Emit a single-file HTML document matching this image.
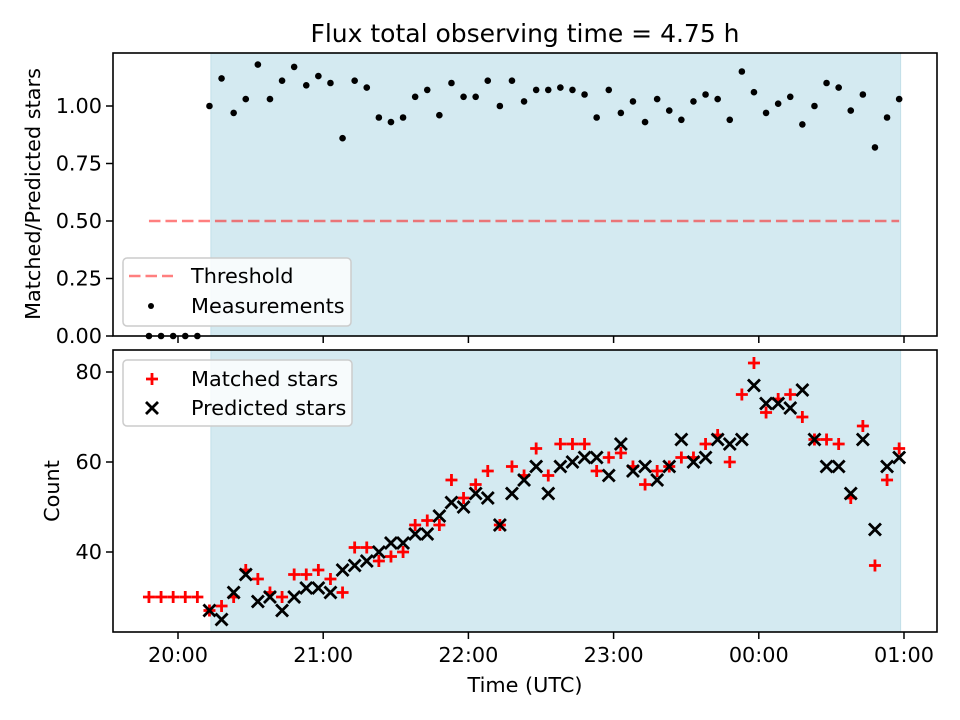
<!DOCTYPE html>
<html><head><meta charset="utf-8"><style>
html,body{margin:0;padding:0;background:#fff;}
svg{display:block;font-family:"DejaVu Sans","Liberation Sans",sans-serif;}
</style></head><body>
<svg id="fig" width="960" height="720" viewBox="0 0 960 720" xmlns="http://www.w3.org/2000/svg">
<rect x="0" y="0" width="960" height="720" fill="#fff"/>
<text x="525" y="42" font-size="25" text-anchor="middle" fill="#000">Flux total observing time = 4.75 h</text>
<g id="top"></g>
<g id="bot"></g>
<text x="525" y="692" font-size="20.8" text-anchor="middle">Time (UTC)</text>
<text transform="translate(40,194) rotate(-90)" font-size="20.8" text-anchor="middle">Matched/Predicted stars</text>
<text transform="translate(59,491) rotate(-90)" font-size="20.8" text-anchor="middle">Count</text>
</svg>
<script>
// minutes relative to 20:00
const times = [-12,-7,-2,3,8,13,18,23,28,33,38,43,48,53,58,63,68,73,78,83,88,93,98,103,108,113,118,123,128,133,138,143,148,153,158,163,168,173,178,183,188,193,198,203,208,213,218,223,228,233,238,243,248,253,258,263,268,273,278,283,288,293,298];
const ratio = [0,0,0,0,0,1.00,1.12,0.97,1.03,1.18,1.03,1.11,1.17,1.09,1.13,1.10,0.86,1.11,1.08,0.95,0.93,0.95,1.04,1.07,0.96,1.10,1.04,1.04,1.11,1.00,1.11,1.02,1.07,1.07,1.08,1.07,1.05,0.95,1.07,0.97,1.02,0.93,1.03,0.98,0.94,1.02,1.05,1.03,0.94,1.15,1.06,0.97,1.01,1.04,0.92,1.00,1.10,1.08,0.98,1.05,0.82,0.95,1.03];
const matched = [30,30,30,30,30,27,28,30,36,34,31,30,35,35,36,34,31,41,41,38,39,40,46,47,46,56,52,55,58,46,59,57,63,57,64,64,64,58,61,62,59,55,58,59,61,61,64,66,60,75,82,71,74,75,70,65,65,64,52,68,37,56,63];
const predicted = [null,null,null,null,null,27,25,31,35,29,30,27,30,32,32,31,36,37,38,40,42,42,44,44,48,51,50,53,52,46,53,56,59,53,59,60,61,61,57,64,58,59,56,59,65,60,61,65,64,65,77,73,73,72,76,65,59,59,53,65,45,59,61];
const threshold = 0.5;
const spanStart = 13.6, spanEnd = 298.6;
const xTickMin = [0,60,120,180,240,300];
const xTickLabels = ["20:00","21:00","22:00","23:00","00:00","01:00"];
const topTicks = [0,0.25,0.5,0.75,1.0];
const topTickLabels = ["0.00","0.25","0.50","0.75","1.00"];
const botTicks = [40,60,80];
const botTickLabels = ["40","60","80"];

const NS="http://www.w3.org/2000/svg";
function mk(p,tag,a,txt){const e=document.createElementNS(NS,tag);for(const k in a)e.setAttribute(k,a[k]);if(txt!=null)e.textContent=txt;p.appendChild(e);return e;}
const L=113,R=937;
const xs=t=>178+t*145.2/60;
const PT={top:53,bot:336}, PB={top:350,bot:632};
const yTop=v=>336-v*230;
const yBot=v=>372+(80-v)*4.5;

function panel(g,P,ticks,labels,ys,showX){
  const bg=mk(g,'rect',{x:L,y:P.top,width:R-L,height:P.bot-P.top,fill:'#fff'});
  
  
  const sp=mk(g,'rect',{x:xs(spanStart),y:P.top,width:xs(spanEnd)-xs(spanStart),height:P.bot-P.top,fill:'#d4eaf1',stroke:'#c2dfe8','stroke-width':1});
  
  
  ticks.forEach((v,i)=>{
    const y=ys(v);
    mk(g,'line',{x1:L-7,x2:L,y1:y,y2:y,stroke:'#000','stroke-width':1.5});
    const t=mk(g,'text',{x:L-11,y:y+7,'font-size':20.8,'text-anchor':'end'},labels[i]);
    
    
  });
  xTickMin.forEach((m,i)=>{
    const x=xs(m);
    mk(g,'line',{x1:x,x2:x,y1:P.bot,y2:P.bot+7,stroke:'#000','stroke-width':1.5});
    if(showX){
      const t=mk(g,'text',{x:x,y:P.bot+30,'font-size':20.8,'text-anchor':'middle'},xTickLabels[i]);
      
      
    }
  });
}
const gTop=document.getElementById('top'), gBot=document.getElementById('bot');
panel(gTop,PT,topTicks,topTickLabels,yTop,false);
panel(gBot,PB,botTicks,botTickLabels,yBot,true);

const th=mk(gTop,'line',{x1:xs(times[0]),x2:xs(times[times.length-1]),y1:yTop(threshold),y2:yTop(threshold),stroke:'#ff0000','stroke-opacity':0.5,'stroke-width':2.6,'stroke-dasharray':'11.5,5'});


times.forEach((t,i)=>{
  const c=mk(gTop,'circle',{cx:xs(t),cy:yTop(ratio[i]),r:3.3,fill:'#000'});
  
  
});
function plus(g,x,y){return mk(g,'path',{d:`M${x-6} ${y}H${x+6}M${x} ${y-6}V${y+6}`,stroke:'#ff0000','stroke-width':2.8,fill:'none'});}
function cross(g,x,y){return mk(g,'path',{d:`M${x-6} ${y-6}L${x+6} ${y+6}M${x-6} ${y+6}L${x+6} ${y-6}`,stroke:'#000','stroke-width':2.8,fill:'none'});}
times.forEach((t,i)=>{
  const p=plus(gBot,xs(t),yBot(matched[i]));
  
  
});
times.forEach((t,i)=>{
  if(predicted[i]==null)return;
  const p=cross(gBot,xs(t),yBot(predicted[i]));
  
  
});
mk(gTop,'rect',{x:L,y:PT.top,width:R-L,height:PT.bot-PT.top,fill:'none',stroke:'#000','stroke-width':1.6});
mk(gBot,'rect',{x:L,y:PB.top,width:R-L,height:PB.bot-PB.top,fill:'none',stroke:'#000','stroke-width':1.6});

function legend(g,x,y,w,h){return mk(g,'rect',{x:x,y:y,width:w,height:h,rx:4,fill:'#fff','fill-opacity':0.8,stroke:'#cccccc','stroke-width':1.5});}
const lg1=legend(gTop,123,258,228,68);


mk(gTop,'line',{x1:129,x2:173,y1:276,y2:276,stroke:'#ff0000','stroke-opacity':0.5,'stroke-width':2.6,'stroke-dasharray':'11.5,5'});
const t1=mk(gTop,'text',{x:191,y:283,'font-size':20.8},'Threshold');


mk(gTop,'circle',{cx:151,cy:306,r:3,fill:'#000'});
const t2=mk(gTop,'text',{x:191,y:313,'font-size':20.8},'Measurements');



const lg2=legend(gBot,123,360,229,66);


plus(gBot,152,379);
const t3=mk(gBot,'text',{x:191,y:386,'font-size':20.8},'Matched stars');


cross(gBot,152,408);
const t4=mk(gBot,'text',{x:191,y:415,'font-size':20.8},'Predicted stars');


</script>
</body></html>
